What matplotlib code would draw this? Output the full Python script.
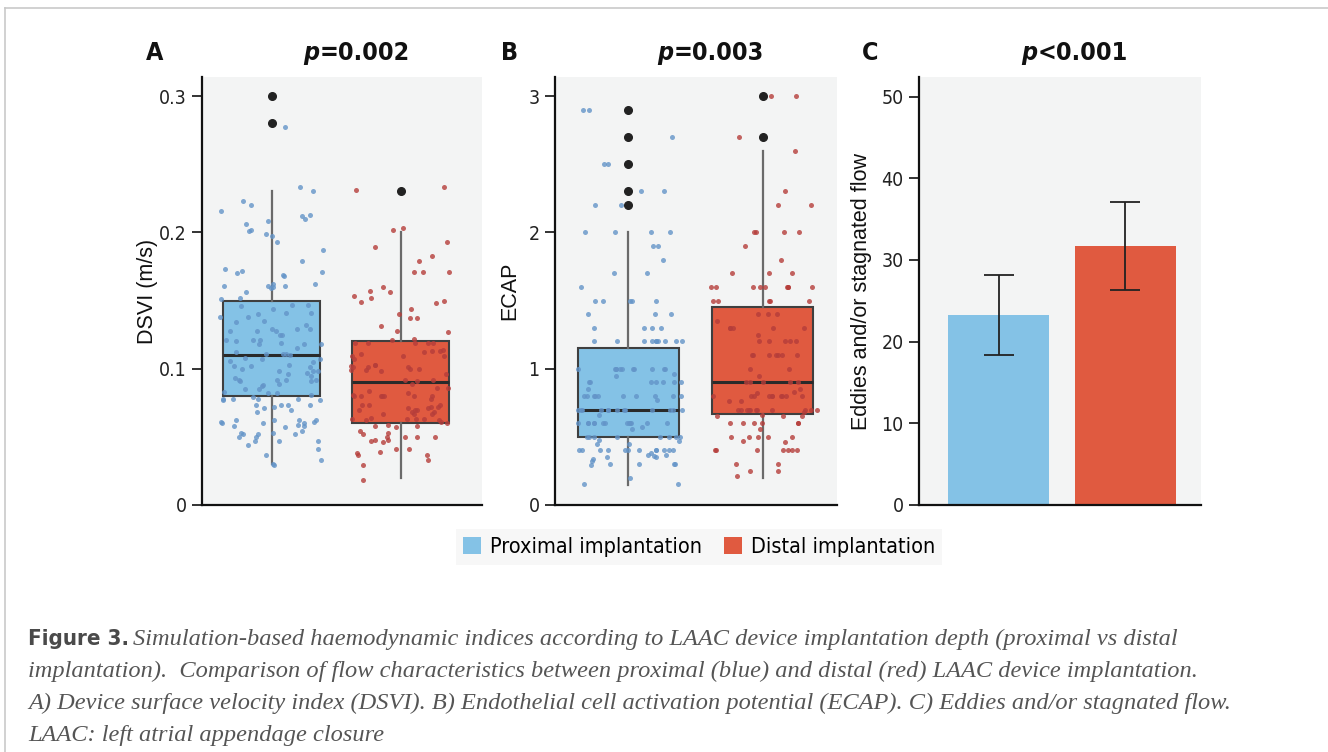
import os
import numpy as np
import matplotlib
matplotlib.use("Agg")
import matplotlib.pyplot as plt
from matplotlib.patches import Patch
from matplotlib.lines import Line2D
from matplotlib import font_manager
from matplotlib.font_manager import FontProperties

# condensed face for ticks/titles, plain sans for axis labels, serif for caption
files = {os.path.basename(f.fname): f.fname for f in font_manager.fontManager.ttflist}


def narrow(size, bold=False, italic=False):
    key = "DejaVuSansCondensed"
    if bold and italic:
        key += "-BoldOblique"
    elif bold:
        key += "-Bold"
    elif italic:
        key += "-Oblique"
    key += ".ttf"
    if key in files:
        return FontProperties(fname=files[key], size=size)
    return FontProperties(family="DejaVu Sans", size=size,
                          weight="bold" if bold else "normal",
                          style="italic" if italic else "normal")


SANS = "Liberation Sans"
SERIF = "Liberation Serif"

groups = ["Proximal implantation", "Distal implantation"]
colors = ["#84c2e6", "#e05a40"]
dot_colors = ["#6394c8", "#b53d3a"]

# panel A - DSVI (m/s)
dsvi_prox = [0.277, 0.230, 0.233, 0.223, 0.220, 0.213, 0.216, 0.210, 0.212, 0.208,
             0.202, 0.201, 0.206, 0.199, 0.197, 0.193, 0.187, 0.179, 0.168, 0.171,
             0.172, 0.170, 0.169, 0.173, 0.161, 0.160, 0.161, 0.162, 0.161, 0.162,
             0.159, 0.156, 0.151, 0.152, 0.147, 0.146, 0.140, 0.138, 0.132, 0.134,
             0.138, 0.141, 0.144, 0.147, 0.141, 0.129, 0.128, 0.128, 0.129, 0.129,
             0.128, 0.125, 0.121, 0.121, 0.121, 0.120, 0.118, 0.118, 0.118, 0.119,
             0.111, 0.111, 0.110, 0.112, 0.111, 0.108, 0.107, 0.106, 0.107, 0.100,
             0.103, 0.102, 0.101, 0.096, 0.102, 0.097, 0.098, 0.098, 0.098, 0.093,
             0.091, 0.092, 0.092, 0.092, 0.091, 0.092, 0.089, 0.085, 0.087, 0.085,
             0.083, 0.081, 0.082, 0.082, 0.079, 0.078, 0.077, 0.078, 0.078, 0.078,
             0.077, 0.073, 0.071, 0.072, 0.073, 0.073, 0.073, 0.070, 0.068, 0.062,
             0.062, 0.061, 0.062, 0.062, 0.061, 0.059, 0.058, 0.058, 0.060, 0.060,
             0.060, 0.057, 0.054, 0.053, 0.052, 0.052, 0.053, 0.052, 0.050, 0.050,
             0.047, 0.047, 0.047, 0.044, 0.041, 0.037, 0.033, 0.030, 0.029, 0.105,
             0.115, 0.125, 0.135, 0.095, 0.088]
dsvi_dist = [0.233, 0.231, 0.202, 0.203, 0.193, 0.189, 0.183, 0.179, 0.171, 0.171,
             0.171, 0.160, 0.156, 0.157, 0.153, 0.152, 0.150, 0.148, 0.149, 0.144,
             0.140, 0.137, 0.137, 0.131, 0.127, 0.128, 0.122, 0.119, 0.119, 0.119,
             0.121, 0.119, 0.119, 0.112, 0.111, 0.114, 0.113, 0.113, 0.109, 0.109,
             0.107, 0.109, 0.102, 0.103, 0.103, 0.101, 0.101, 0.101, 0.100, 0.099,
             0.100, 0.099, 0.098, 0.096, 0.092, 0.092, 0.091, 0.089, 0.084, 0.082,
             0.081, 0.080, 0.086, 0.086, 0.080, 0.080, 0.080, 0.080, 0.080, 0.078,
             0.080, 0.072, 0.072, 0.073, 0.071, 0.073, 0.073, 0.071, 0.070, 0.068,
             0.070, 0.070, 0.067, 0.068, 0.067, 0.067, 0.063, 0.062, 0.061, 0.062,
             0.063, 0.063, 0.064, 0.063, 0.060, 0.059, 0.058, 0.057, 0.058, 0.054,
             0.053, 0.052, 0.050, 0.050, 0.048, 0.050, 0.050, 0.047, 0.048, 0.046,
             0.041, 0.037, 0.037, 0.041, 0.039, 0.038, 0.033, 0.029, 0.018]
dsvi_q1 = [0.08, 0.06]
dsvi_med = [0.11, 0.09]
dsvi_q3 = [0.15, 0.12]
dsvi_lo = [0.03, 0.02]
dsvi_hi = [0.23, 0.20]
dsvi_fliers = [[0.30, 0.28], [0.23]]

# panel B - ECAP
ecap_prox = [2.9, 2.9, 2.7, 2.5, 2.5, 2.3, 2.3, 2.2, 2.2, 2.0, 2.0, 2.0, 2.0,
             1.9, 1.9, 1.8, 1.7, 1.7, 1.6, 1.5, 1.5, 1.5, 1.5, 1.5, 1.4, 1.4, 1.4,
             1.3, 1.3, 1.3, 1.3, 1.2, 1.2, 1.2, 1.2, 1.2, 1.2, 1.2, 1.2, 1.2, 1.2,
             1.0, 1.0, 1.0, 1.0, 1.0, 1.0, 1.0, 1.0, 1.0, 1.0, 1.0, 0.96, 0.95,
             0.9, 0.9, 0.9, 0.9, 0.9, 0.9, 0.9, 0.85,
             0.8, 0.8, 0.8, 0.8, 0.8, 0.8, 0.8, 0.8, 0.8, 0.8, 0.77,
             0.7, 0.7, 0.7, 0.7, 0.7, 0.7, 0.7, 0.7, 0.7, 0.7, 0.7, 0.7, 0.7, 0.66,
             0.6, 0.6, 0.6, 0.6, 0.6, 0.6, 0.6, 0.6, 0.6, 0.6, 0.6, 0.6, 0.6,
             0.575, 0.555, 0.5, 0.5, 0.5, 0.5, 0.5, 0.5, 0.5, 0.5,
             0.48, 0.47, 0.45, 0.45,
             0.4, 0.4, 0.4, 0.4, 0.4, 0.4, 0.4, 0.4, 0.4, 0.4, 0.4, 0.4,
             0.38, 0.37, 0.37, 0.36, 0.35, 0.34, 0.35, 0.32, 0.30, 0.30, 0.30,
             0.30, 0.29, 0.2, 0.155, 0.155]
ecap_dist = [3.0, 3.0, 2.7, 2.6, 2.3, 2.2, 2.2, 2.0, 2.0, 2.0, 2.0, 1.9, 1.8,
             1.7, 1.7, 1.7, 1.6, 1.6, 1.6, 1.6, 1.6, 1.6, 1.6, 1.6, 1.6,
             1.5, 1.5, 1.5, 1.5, 1.5, 1.4, 1.4, 1.4, 1.35, 1.3, 1.3, 1.3, 1.3, 1.3,
             1.25, 1.2, 1.2, 1.2, 1.2, 1.2, 1.1, 1.1, 1.1, 1.1, 1.1, 1.1, 1.1,
             1.0, 1.0, 0.95, 0.9, 0.9, 0.9, 0.9, 0.9, 0.85, 0.83, 0.82,
             0.8, 0.8, 0.8, 0.8, 0.8, 0.8, 0.8, 0.8, 0.8, 0.8, 0.76, 0.76,
             0.7, 0.7, 0.7, 0.7, 0.7, 0.7, 0.7, 0.7, 0.7, 0.7, 0.7,
             0.68, 0.66, 0.65, 0.65, 0.65, 0.6, 0.6, 0.6, 0.6, 0.6, 0.6, 0.56,
             0.5, 0.5, 0.5, 0.5, 0.5, 0.47, 0.46,
             0.4, 0.4, 0.4, 0.4, 0.4, 0.4, 0.4, 0.3, 0.3, 0.25, 0.25, 0.21]
ecap_q1 = [0.50, 0.67]
ecap_med = [0.70, 0.90]
ecap_q3 = [1.15, 1.45]
ecap_lo = [0.15, 0.20]
ecap_hi = [2.00, 2.60]
ecap_fliers = [[2.9, 2.7, 2.5, 2.3, 2.2], [3.0, 2.7]]

# panel C - eddies and/or stagnated flow
eddies_mean = [23.3, 31.7]
eddies_err = [4.9, 5.4]

p_labels = ["=0.002", "=0.003", "<0.001"]
panel_letters = ["A", "B", "C"]

rng = np.random.default_rng(7)

fig = plt.figure(figsize=(13.28, 7.52), dpi=100)
fig.patch.set_facecolor("white")

W, H = 1328.0, 752.0
bottom = (H - 505) / H
height = (505 - 77) / H
axA = fig.add_axes([202 / W, bottom, 280 / W, height])
axB = fig.add_axes([555 / W, bottom, 282 / W, height])
axC = fig.add_axes([919 / W, bottom, 282 / W, height])


def style_axis(ax, ticks, ticklabels, top):
    ax.set_facecolor("#f3f4f4")
    for s in ["top", "right"]:
        ax.spines[s].set_visible(False)
    for s in ["left", "bottom"]:
        ax.spines[s].set_linewidth(1.6)
        ax.spines[s].set_color("#111111")
    ax.set_ylim(0, top)
    ax.set_yticks(ticks)
    ax.set_yticklabels(ticklabels, fontproperties=narrow(14), color="#222222")
    ax.tick_params(axis="y", length=7, width=1.2, color="#111111", pad=4)
    ax.set_xticks([])


def box_panel(ax, data, q1, med, q3, lo, hi, fliers):
    stats = []
    for i in range(2):
        stats.append({"q1": q1[i], "med": med[i], "q3": q3[i],
                      "whislo": lo[i], "whishi": hi[i], "fliers": fliers[i]})
    bp = ax.bxp(stats, positions=[0, 1], widths=0.75, patch_artist=True,
                showcaps=False,
                boxprops=dict(edgecolor="#3f3f3f", linewidth=1.5),
                medianprops=dict(color="#2a2a2a", linewidth=2.2),
                whiskerprops=dict(color="#6a6a6a", linewidth=1.6),
                flierprops=dict(marker="o", markerfacecolor="#222222",
                                markeredgecolor="#222222", markersize=5.5))
    for patch, c in zip(bp["boxes"], colors):
        patch.set_facecolor(c)
        patch.set_zorder(2)
    for fl in bp["fliers"]:
        fl.set_zorder(5)
    for i, vals in enumerate(data):
        x = i + rng.uniform(-0.4, 0.4, len(vals))
        ax.scatter(x, vals, s=13, color=dot_colors[i], alpha=0.8,
                   linewidths=0, zorder=3)


box_panel(axA, [dsvi_prox, dsvi_dist], dsvi_q1, dsvi_med, dsvi_q3,
          dsvi_lo, dsvi_hi, dsvi_fliers)
style_axis(axA, [0, 0.1, 0.2, 0.3], ["0", "0.1", "0.2", "0.3"], 0.314)
axA.set_xlim(-0.54, 1.63)
axA.set_ylabel("DSVI (m/s)", fontfamily=SANS, fontsize=15.5, color="#111111", labelpad=1)

box_panel(axB, [ecap_prox, ecap_dist], ecap_q1, ecap_med, ecap_q3,
          ecap_lo, ecap_hi, ecap_fliers)
style_axis(axB, [0, 1, 2, 3], ["0", "1", "2", "3"], 3.14)
axB.set_xlim(-0.545, 1.55)
axB.set_ylabel("ECAP", fontfamily=SANS, fontsize=15.5, color="#111111", labelpad=6)

axC.bar([0, 1], eddies_mean, width=0.8, color=colors, zorder=2)
axC.errorbar([0, 1], eddies_mean, yerr=eddies_err, fmt="none", ecolor="#222222",
             elinewidth=1.3, capsize=11, capthick=1.3, zorder=3)
style_axis(axC, [0, 10, 20, 30, 40, 50], ["0", "10", "20", "30", "40", "50"], 52.4)
axC.set_xlim(-0.63, 1.6)
axC.set_ylabel("Eddies and/or stagnated flow", fontfamily=SANS, fontsize=15.5,
               color="#111111", labelpad=7)

# panel letters and p-values
for ax, letter, pl, lx in zip([axA, axB, axC], panel_letters, p_labels, [-0.171, -0.16, -0.174]):
    ax.text(lx, 1.056, letter, transform=ax.transAxes, ha="center", va="center",
            fontproperties=narrow(18, bold=True), color="#111111")
    ax.text(0.42, 1.056, "p", transform=ax.transAxes, ha="right", va="center",
            fontproperties=narrow(18, bold=True, italic=True), color="#111111")
    ax.text(0.42, 1.056, pl, transform=ax.transAxes, ha="left", va="center",
            fontproperties=narrow(18, bold=True), color="#111111")

# legend
handles = [Patch(facecolor=c, edgecolor="none", label=g) for c, g in zip(colors, groups)]
leg = fig.legend(handles=handles, loc="center", bbox_to_anchor=(699 / W, (H - 547) / H),
                 ncol=2, frameon=True, fancybox=False, prop=narrow(15.5),
                 handlelength=0.85, handleheight=0.85, handletextpad=0.4,
                 columnspacing=1.0, borderpad=0.35)
leg.get_frame().set_facecolor("#f5f5f5")
leg.get_frame().set_edgecolor("none")

# frame lines around the figure
fig.add_artist(Line2D([5 / W, 1.0], [1 - 8 / H, 1 - 8 / H], color="#c9c9c9", lw=1.2))
fig.add_artist(Line2D([5 / W, 5 / W], [0.0, 1 - 8 / H], color="#c9c9c9", lw=1.2))

# caption
cap_col = "#555555"
cap_size = 17.6
fig.text(28 / W, 1 - 645 / H, "Figure 3.", fontproperties=narrow(16, bold=True),
         color="#4a4a4a", va="baseline")
fig.text(133 / W, 1 - 645 / H,
         "Simulation-based haemodynamic indices according to LAAC device implantation depth (proximal vs distal",
         fontfamily=SERIF, fontstyle="italic", fontsize=cap_size, color=cap_col, va="baseline")
fig.text(28 / W, 1 - 677 / H,
         "implantation).  Comparison of flow characteristics between proximal (blue) and distal (red) LAAC device implantation.",
         fontfamily=SERIF, fontstyle="italic", fontsize=cap_size, color=cap_col, va="baseline")
fig.text(28 / W, 1 - 709 / H,
         "A) Device surface velocity index (DSVI). B) Endothelial cell activation potential (ECAP). C) Eddies and/or stagnated flow.",
         fontfamily=SERIF, fontstyle="italic", fontsize=cap_size, color=cap_col, va="baseline")
fig.text(28 / W, 1 - 741 / H, "LAAC: left atrial appendage closure",
         fontfamily=SERIF, fontstyle="italic", fontsize=cap_size, color=cap_col, va="baseline")

fig.savefig("out.png", dpi=100)
